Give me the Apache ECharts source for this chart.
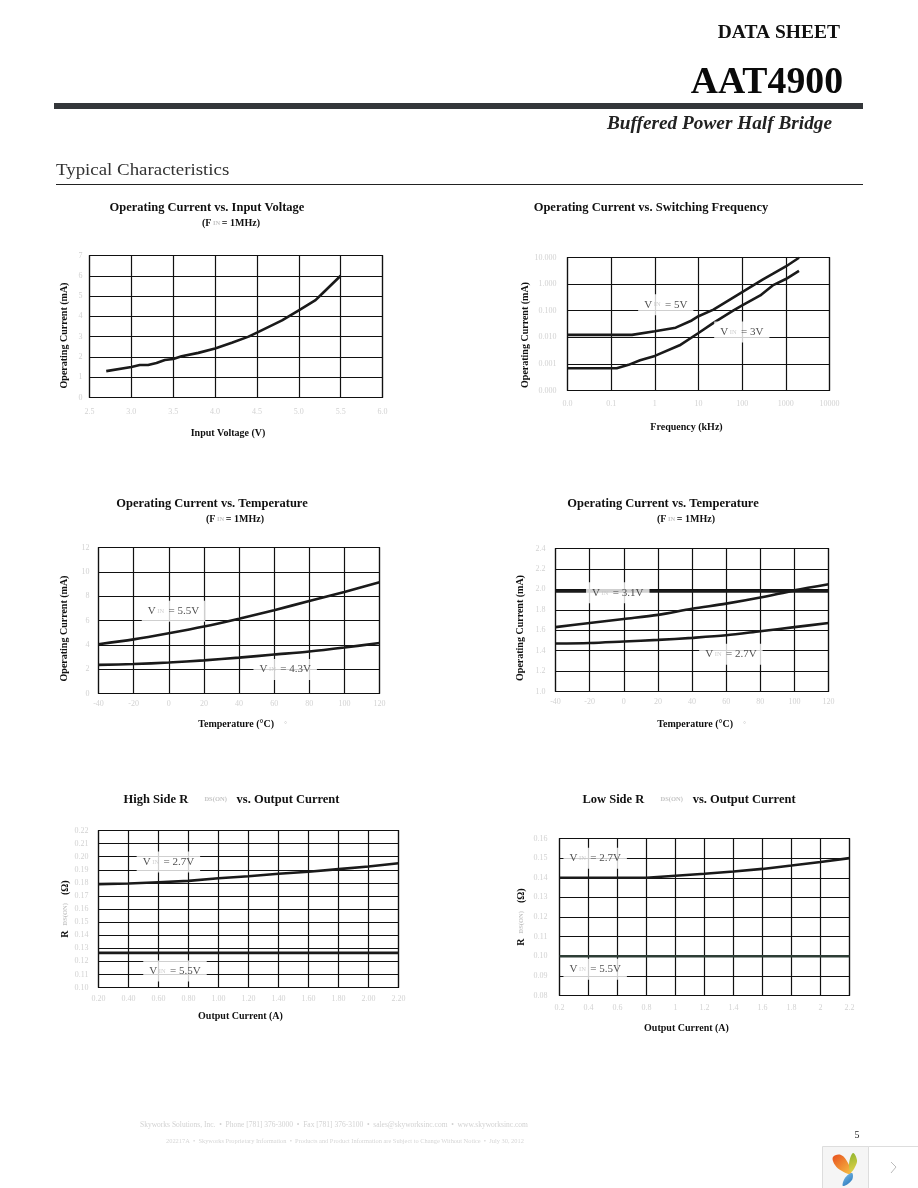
<!DOCTYPE html>
<html>
<head>
<meta charset="utf-8">
<style>
  html, body { margin: 0; padding: 0; background: #fff; }
  #page { width: 918px; height: 1188px; }
</style>
<script src="https://cdn.jsdelivr.net/npm/echarts@6/dist/echarts.min.js"></script>
</head>
<body>
<div id="page"></div>
<script>
// operating current vs input voltage
const inputVolt = [2.7, 3.0, 3.1, 3.2, 3.3, 3.4, 3.5, 3.6, 3.8, 4.0, 4.2, 4.4, 4.5, 4.8, 5.0, 5.2, 5.3, 5.5];
const inputCurrent = [1.3, 1.5, 1.6, 1.6, 1.7, 1.85, 1.9, 2.03, 2.2, 2.42, 2.7, 3.0, 3.2, 3.8, 4.3, 4.8, 5.2, 6.0];

// operating current vs switching frequency
const freq5v = [0.01, 0.3, 1, 3, 7, 10, 22, 44, 100, 300, 500, 1000, 2000];
const current5v = [0.0123, 0.0123, 0.0168, 0.023, 0.043, 0.062, 0.11, 0.22, 0.5, 1.5, 2.4, 4.6, 9.8];
const freq3v = [0.01, 0.134, 0.25, 0.46, 1, 3.7, 10, 22, 62, 100, 260, 500, 1000, 2000];
const current3v = [0.00069, 0.00069, 0.00092, 0.00137, 0.002, 0.005, 0.0145, 0.035, 0.1, 0.16, 0.376, 0.89, 1.55, 3.16];
const freqTicks = ['0.0', '0.1', '1', '10', '100', '1000', '10000'];
const freqCurrentTicks = ['0.000', '0.001', '0.010', '0.100', '1.000', '10.000'];

// operating current vs temperature
const temps = [-40, -20, 0, 20, 40, 60, 80, 100, 120];
const current55 = [4.05, 4.45, 4.95, 5.5, 6.15, 6.85, 7.6, 8.35, 9.15];
const current43 = [2.35, 2.42, 2.55, 2.72, 2.95, 3.2, 3.45, 3.78, 4.15];
const current31 = [1.98, 1.98, 1.98, 1.98, 1.98, 1.98, 1.98, 1.98, 1.98];
const currentMid = [1.63, 1.67, 1.71, 1.75, 1.81, 1.86, 1.92, 1.99, 2.05];
const current27 = [1.47, 1.475, 1.49, 1.505, 1.525, 1.55, 1.59, 1.63, 1.67];

// RDS(ON) vs output current
const outCurrent = [0.2, 0.4, 0.6, 0.8, 1.0, 1.2, 1.4, 1.6, 1.8, 2.0, 2.2];
const highSide27 = [0.179, 0.1795, 0.1805, 0.1815, 0.1835, 0.185, 0.187, 0.1885, 0.1905, 0.1925, 0.195];
const highSide55 = [0.1265, 0.1265, 0.1265, 0.1265, 0.1265, 0.1265, 0.1265, 0.1265, 0.1265, 0.1265, 0.1265];
const lowSide27 = [0.14, 0.14, 0.14, 0.14, 0.141, 0.142, 0.1432, 0.1445, 0.1462, 0.148, 0.15];
const lowSide55 = [0.1, 0.1, 0.1, 0.1, 0.1, 0.1, 0.1, 0.1, 0.1, 0.1, 0.1];

const zip = (xs, ys) => xs.map((x, i) => [x, ys[i]]);
const serif = '"Liberation Serif", "Times New Roman", serif';
const richText = {
  b: { fontFamily: serif, fontWeight: 'bold', fontSize: 12.5, color: '#111' },
  s: { fontFamily: serif, fontWeight: 'bold', fontSize: 10, color: '#111' },
  g: { fontFamily: serif, fontSize: 6.5, color: '#c4c4c4' },
  v: { fontFamily: serif, fontSize: 11, color: '#222' }
};
const rdsName = 'R{g|   DS(ON)     }(Ω)';

const charts = [
  {
    box: [89.5, 255.5, 382.5, 397.5], xMin: 2.5, xMax: 6, xStep: 0.5, yMin: 0, yMax: 7, yStep: 1,
    xFmt: v => v.toFixed(1), yFmt: v => v.toFixed(0),
    title: '{b|Operating Current vs. Input Voltage}', titleX: 207, titleY: 201,
    sub: '{s|(F}{g| IN }{s|= 1MHz)}', subX: 231, subY: 218,
    xName: 'Input Voltage (V)', xShift: 16, xGap: 31, xMargin: 10,
    yName: 'Operating Current (mA)', yShift: 9, yGap: 20, yMargin: 7,
    lines: [{ data: zip(inputVolt, inputCurrent) }], labels: []
  },
  {
    box: [567.5, 257.5, 829.5, 390.5], log: true, xMin: 0.01, xMax: 10000, yMin: 0.0001, yMax: 10,
    xFmt: null, yFmt: null,
    title: '{b|Operating Current vs. Switching Frequency}', titleX: 651, titleY: 201,
    xName: 'Frequency (kHz)', xShift: 24, xGap: 32, xMargin: 9,
    yName: 'Operating Current (mA)', yShift: 11, yGap: 36, yMargin: 11,
    lines: [{ data: zip(freq5v, current5v) }, { data: zip(freq3v, current3v) }],
    labels: [[1.78, 0.168, '5V'], [98, 0.0158, '3V']]
  },
  {
    box: [98.5, 547.5, 379.5, 693.5], xMin: -40, xMax: 120, xStep: 20, yMin: 0, yMax: 12, yStep: 2,
    xFmt: v => String(v), yFmt: v => String(v), smooth: true,
    title: '{b|Operating Current vs. Temperature}', titleX: 212, titleY: 497,
    sub: '{s|(F}{g| IN }{s|= 1MHz)}', subX: 235, subY: 514,
    xName: 'Temperature (°C)    {g|°}', xShift: -7, xGap: 26, xMargin: 6,
    yName: 'Operating Current (mA)', yShift: 8, yGap: 29, yMargin: 9,
    lines: [{ data: zip(temps, current55) }, { data: zip(temps, current43) }],
    labels: [[2.7, 6.77, '5.5V'], [66.3, 1.97, '4.3V']]
  },
  {
    box: [555.5, 548.5, 828.5, 691.5], xMin: -40, xMax: 120, xStep: 20, yMin: 1, yMax: 2.4, yStep: 0.2,
    xFmt: v => String(v), yFmt: v => v.toFixed(1), smooth: true,
    title: '{b|Operating Current vs. Temperature}', titleX: 663, titleY: 497,
    sub: '{s|(F}{g| IN }{s|= 1MHz)}', subX: 686, subY: 514,
    xName: 'Temperature (°C)    {g|°}', xShift: -19, xGap: 28, xMargin: 6,
    yName: 'Operating Current (mA)', yShift: 8, yGap: 30, yMargin: 10,
    lines: [{ data: zip(temps, current31), width: 2.8 }, { data: zip(temps, currentMid) }, { data: zip(temps, current27) }],
    labels: [[-3.5, 1.966, '3.1V'], [62.8, 1.365, '2.7V']]
  },
  {
    box: [98.5, 830.5, 398.5, 987.5], xMin: 0.2, xMax: 2.2, xStep: 0.2, yMin: 0.1, yMax: 0.22, yStep: 0.01,
    xFmt: v => v.toFixed(2), yFmt: v => v.toFixed(2),
    title: '{b|High Side R}{g|          DS(ON)      }{b|vs. Output Current}', titleX: 231.5, titleY: 793,
    xName: 'Output Current (A)', xShift: 16, xGap: 24, xMargin: 7,
    yName: rdsName, yShift: 0, yGap: 28, yMargin: 10,
    lines: [{ data: zip(outCurrent, highSide27) }, { data: zip(outCurrent, highSide55), width: 2.8 }],
    labels: [[0.666, 0.196, '2.7V'], [0.71, 0.1127, '5.5V']]
  },
  {
    box: [559.5, 838.5, 849.5, 995.5], xMin: 0.2, xMax: 2.2, xStep: 0.2, yMin: 0.08, yMax: 0.16, yStep: 0.01,
    xFmt: v => String(Math.round(v * 10) / 10), yFmt: v => v.toFixed(2),
    title: '{b|Low Side R}{g|          DS(ON)      }{b|vs. Output Current}', titleX: 689, titleY: 793,
    xName: 'Output Current (A)', xShift: 36, xGap: 28, xMargin: 8,
    yName: rdsName, yShift: 0, yGap: 33, yMargin: 12,
    lines: [{ data: zip(outCurrent, lowSide27) }, { data: zip(outCurrent, lowSide55), color: '#2d3d35' }],
    labels: [[0.446, 0.15, '2.7V'], [0.446, 0.0934, '5.5V']]
  }
];

const grid = [], xAxis = [], yAxis = [], series = [], title = [];

charts.forEach((c, i) => {
  grid.push({
    left: c.box[0], top: c.box[1], width: c.box[2] - c.box[0], height: c.box[3] - c.box[1],
    show: true, borderColor: '#111', borderWidth: 1.2, backgroundColor: 'transparent', containLabel: false
  });
  const split = { show: true, lineStyle: { color: '#111', width: 1.2 } };
  const tickLabel = { color: '#d2d2d2', fontFamily: serif, fontSize: 8 };
  const nameStyle = { fontFamily: serif, fontWeight: 'bold', fontSize: 10, color: '#111', rich: richText };
  xAxis.push({
    gridIndex: i, type: c.log ? 'log' : 'value', logBase: 10,
    min: c.xMin, max: c.xMax, interval: c.log ? undefined : c.xStep, splitNumber: c.log ? 6 : undefined,
    axisLine: { show: false }, axisTick: { show: false }, splitLine: split, minorTick: { show: false },
    axisLabel: {
      ...tickLabel, margin: c.xMargin, showMinLabel: true, showMaxLabel: true,
      formatter: c.log ? (v => freqTicks[Math.round(Math.log10(v)) + 2]) : c.xFmt
    },
    name: c.xName, nameLocation: 'middle', nameGap: c.xGap,
    nameTextStyle: { ...nameStyle, padding: [0, Math.max(c.xShift, 0), 0, Math.max(-c.xShift, 0)] }
  });
  yAxis.push({
    gridIndex: i, type: c.log ? 'log' : 'value', logBase: 10,
    min: c.yMin, max: c.yMax, interval: c.log ? undefined : c.yStep, splitNumber: c.log ? 5 : undefined,
    axisLine: { show: false }, axisTick: { show: false }, splitLine: split, minorTick: { show: false },
    axisLabel: {
      ...tickLabel, margin: c.yMargin, showMinLabel: true, showMaxLabel: true,
      formatter: c.log ? (v => freqCurrentTicks[Math.round(Math.log10(v)) + 4]) : c.yFmt
    },
    name: c.yName, nameLocation: 'middle', nameGap: c.yGap,
    nameTextStyle: { ...nameStyle, padding: [0, c.yShift * 2, 0, 0] }
  });

  c.lines.forEach(l => {
    series.push({
      type: 'line', xAxisIndex: i, yAxisIndex: i, data: l.data, showSymbol: false, silent: true,
      smooth: c.smooth ? 0.3 : false, clip: false, z: 3,
      lineStyle: { color: l.color || '#1a1a1a', width: l.width || 2.6 }
    });
  });

  // VIN callouts sit on a white patch that cuts through the grid
  if (c.labels.length) {
    series.push({
      type: 'scatter', xAxisIndex: i, yAxisIndex: i, symbolSize: 1, silent: true, z: 5,
      itemStyle: { color: 'transparent' },
      data: c.labels.map(l => ({ value: [l[0], l[1]], vin: l[2] })),
      label: {
        show: true, position: 'inside', backgroundColor: '#fff', padding: [5, 6, 5, 6],
        formatter: p => '{v|V}{g| IN }{v| = ' + p.data.vin + '}', rich: richText
      }
    });
  }

  title.push({
    text: c.title, left: c.titleX, top: c.titleY, textAlign: 'center', padding: 0,
    textStyle: { fontFamily: serif, fontWeight: 'bold', fontSize: 12.5, color: '#111', rich: richText }
  });
  if (c.sub) {
    title.push({
      text: c.sub, left: c.subX, top: c.subY, textAlign: 'center', padding: 0,
      textStyle: { fontFamily: serif, fontWeight: 'bold', fontSize: 10, color: '#111', rich: richText }
    });
  }
});

function pageText(x, y, text, font, fill, align, sx, sy) {
  return {
    type: 'text', x: x, y: y, scaleX: sx || 1, scaleY: sy || 1, silent: true,
    style: { text: text, font: font, fill: fill, textAlign: align || 'left', textVerticalAlign: 'middle' }
  };
}
const petal = (c0, c1) => new echarts.graphic.LinearGradient(0, 0, 1, 1, [{ offset: 0, color: c0 }, { offset: 1, color: c1 }]);

const graphic = [
  pageText(840, 33, 'DATA SHEET', 'bold 19.5px ' + serif, '#111', 'right'),
  pageText(843, 83, 'AAT4900', 'bold 37px ' + serif, '#0a0a0a', 'right', 1.02, 1),
  { type: 'rect', silent: true, shape: { x: 54, y: 103, width: 809, height: 6 }, style: { fill: '#33363a' } },
  pageText(832, 124, 'Buffered Power Half Bridge', 'italic bold 19.3px ' + serif, '#222', 'right'),
  pageText(56, 171, 'Typical Characteristics', '16px ' + serif, '#333', 'left', 1.18, 1),
  { type: 'rect', silent: true, shape: { x: 56, y: 184, width: 807, height: 1 }, style: { fill: '#222' } },
  pageText(140, 1125, 'Skyworks Solutions, Inc.  •  Phone [781] 376-3000  •  Fax [781] 376-3100  •  sales@skyworksinc.com  •  www.skyworksinc.com', '7.5px ' + serif, '#d2d2d2'),
  pageText(166, 1141, '202217A  •  Skyworks Proprietary Information  •  Products and Product Information are Subject to Change Without Notice  •  July 30, 2012', '6.4px ' + serif, '#d6d6d6'),
  pageText(857, 1135, '5', '10px ' + serif, '#222', 'center'),
  // viewer badge in the corner of the page
  { type: 'rect', silent: true, shape: { x: 822.5, y: 1146.5, width: 46, height: 42 }, style: { fill: '#f5f5f5', stroke: '#ddd', lineWidth: 1 } },
  { type: 'rect', silent: true, shape: { x: 868.5, y: 1146.5, width: 50, height: 42 }, style: { fill: '#fff', stroke: '#ddd', lineWidth: 1 } },
  { type: 'polygon', silent: true, shape: { points: [[833, 1157], [841, 1155], [848, 1163], [851, 1174], [842, 1171], [835, 1165]], smooth: 0.4 }, style: { fill: petal('#e8501e', '#f7c244') } },
  { type: 'polygon', silent: true, shape: { points: [[853, 1153], [857, 1160], [855, 1167], [851, 1172], [849, 1164]], smooth: 0.4 }, style: { fill: petal('#8fb52e', '#e5d24a') } },
  { type: 'polygon', silent: true, shape: { points: [[852, 1173], [852, 1180], [843, 1186], [845, 1178]], smooth: 0.4 }, style: { fill: petal('#7fbfe8', '#1e6fb8') } },
  { type: 'polyline', silent: true, shape: { points: [[891, 1162], [896, 1167], [891, 1173]] }, style: { stroke: '#bbb', lineWidth: 1, fill: 'none' } }
];

const myChart = echarts.init(document.getElementById('page'), null, { width: 918, height: 1188 });
myChart.setOption({
  animation: false,
  backgroundColor: '#fff',
  title: title,
  grid: grid,
  xAxis: xAxis,
  yAxis: yAxis,
  series: series,
  graphic: graphic
});
</script>
</body>
</html>
